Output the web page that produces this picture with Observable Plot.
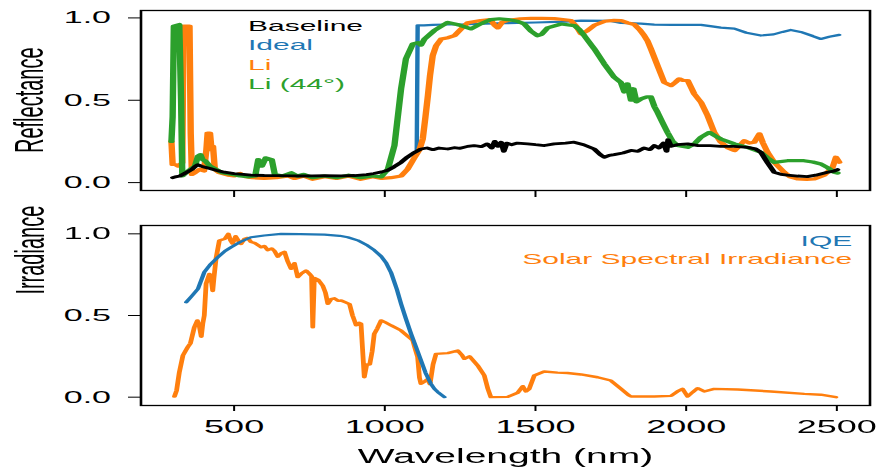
<!DOCTYPE html>
<html>
<head>
<meta charset="utf-8">
<script src="https://cdn.jsdelivr.net/npm/d3@7"></script>
<script src="https://cdn.jsdelivr.net/npm/@observablehq/plot@0.6"></script>
<style>
  html, body { margin: 0; padding: 0; background: white; overflow: hidden; }
  #wrap { width: 439.5px; transform: scale(2, 1); transform-origin: 0 0; }
  #wrap svg { display: block; }
</style>
</head>
<body>
<div id="wrap"></div>
<script>
// ---------- data (wavelength nm, value) ----------
const xTicks = [500, 1000, 1500, 2000, 2500];
const yTicks = [0, 0.5, 1];

const baseline = [[297,0.03],[305,0.035],[320,0.04],[340,0.06],[360,0.08],[372,0.1],[380,0.108],[390,0.1],[400,0.095],[420,0.085],[440,0.075],[468,0.063],[500,0.055],[530,0.05],[556,0.045],[600,0.043],[650,0.042],[689,0.041],[720,0.04],[760,0.041],[800,0.042],[855,0.041],[900,0.043],[940,0.048],[964,0.055],[990,0.065],[1010,0.075],[1030,0.095],[1054,0.123],[1075,0.155],[1095,0.18],[1120,0.204],[1140,0.21],[1160,0.2],[1180,0.21],[1209,0.204],[1230,0.212],[1250,0.208],[1275,0.22],[1296,0.225],[1320,0.218],[1340,0.235],[1355,0.21],[1365,0.25],[1375,0.22],[1386,0.245],[1395,0.19],[1405,0.24],[1420,0.23],[1440,0.24],[1474,0.235],[1500,0.23],[1530,0.225],[1562,0.235],[1600,0.24],[1628,0.245],[1660,0.23],[1695,0.204],[1715,0.17],[1728,0.154],[1745,0.165],[1761,0.17],[1790,0.18],[1817,0.195],[1840,0.19],[1860,0.21],[1880,0.2],[1894,0.225],[1910,0.21],[1925,0.24],[1935,0.19],[1940,0.26],[1950,0.22],[1970,0.23],[2005,0.235],[2040,0.225],[2080,0.225],[2115,0.22],[2160,0.22],[2204,0.214],[2230,0.205],[2248,0.184],[2270,0.12],[2292,0.063],[2315,0.05],[2336,0.045],[2370,0.04],[2402,0.036],[2430,0.045],[2469,0.063],[2490,0.07],[2502,0.079]];

const ideal = [[1106,0.2],[1109,0.955],[1130,0.955],[1160,0.958],[1200,0.96],[1250,0.96],[1300,0.963],[1400,0.968],[1500,0.972],[1600,0.978],[1651,0.984],[1750,0.982],[1784,0.97],[1850,0.965],[1894,0.959],[1950,0.958],[2049,0.958],[2080,0.95],[2115,0.941],[2160,0.935],[2200,0.91],[2248,0.893],[2290,0.9],[2320,0.915],[2347,0.927],[2380,0.915],[2420,0.89],[2447,0.872],[2475,0.885],[2508,0.897]];

const li = [[292,0.25],[296,0.11],[305,0.11],[315,0.1],[328,0.12],[332,0.95],[352,0.95],[356,0.3],[360,0.05],[370,0.06],[385,0.08],[400,0.07],[408,0.2],[412,0.3],[420,0.3],[425,0.2],[430,0.22],[436,0.08],[450,0.06],[480,0.045],[500,0.04],[520,0.055],[540,0.035],[560,0.03],[600,0.025],[640,0.03],[680,0.04],[700,0.025],[730,0.04],[760,0.02],[800,0.035],[840,0.025],[880,0.04],[920,0.02],[960,0.035],[990,0.025],[1020,0.03],[1054,0.04],[1075,0.08],[1098,0.15],[1115,0.2],[1126,0.265],[1135,0.4],[1143,0.528],[1150,0.65],[1159,0.771],[1170,0.83],[1187,0.872],[1210,0.88],[1231,0.892],[1253,0.933],[1275,0.97],[1319,0.984],[1350,0.99],[1365,0.955],[1375,0.94],[1390,0.975],[1408,0.985],[1450,0.995],[1485,0.998],[1520,0.997],[1562,0.996],[1590,0.99],[1618,0.984],[1635,0.95],[1651,0.903],[1670,0.92],[1695,0.955],[1730,0.98],[1761,0.985],[1784,0.984],[1806,0.97],[1828,0.96],[1845,0.93],[1861,0.892],[1872,0.86],[1883,0.812],[1905,0.71],[1927,0.609],[1950,0.589],[1965,0.61],[1977,0.63],[1990,0.62],[2005,0.62],[2027,0.538],[2049,0.488],[2071,0.407],[2093,0.305],[2115,0.245],[2140,0.21],[2160,0.194],[2175,0.22],[2193,0.255],[2210,0.24],[2226,0.245],[2243,0.296],[2255,0.24],[2270,0.184],[2292,0.123],[2325,0.063],[2345,0.035],[2369,0.022],[2400,0.02],[2425,0.022],[2458,0.045],[2486,0.093],[2497,0.154],[2508,0.123]];

const li44 = [[292,0.25],[296,0.4],[300,0.95],[318,0.96],[324,0.5],[328,0.04],[340,0.06],[355,0.08],[370,0.1],[380,0.16],[388,0.17],[395,0.14],[405,0.13],[420,0.1],[440,0.08],[460,0.06],[490,0.05],[520,0.04],[550,0.035],[570,0.04],[580,0.14],[592,0.1],[605,0.15],[625,0.14],[635,0.05],[660,0.04],[690,0.06],[710,0.04],[730,0.05],[760,0.03],[800,0.04],[840,0.03],[880,0.045],[920,0.03],[960,0.04],[988,0.035],[1010,0.08],[1032,0.225],[1054,0.569],[1070,0.751],[1093,0.842],[1110,0.85],[1120,0.835],[1131,0.87],[1164,0.923],[1209,0.973],[1240,0.96],[1253,0.953],[1286,0.933],[1319,0.965],[1352,0.99],[1380,0.995],[1408,0.99],[1440,0.98],[1463,0.963],[1485,0.92],[1507,0.892],[1520,0.9],[1540,0.94],[1585,0.963],[1629,0.953],[1645,0.93],[1662,0.892],[1695,0.812],[1728,0.721],[1761,0.64],[1783,0.609],[1795,0.55],[1805,0.6],[1817,0.5],[1825,0.57],[1835,0.49],[1850,0.508],[1870,0.52],[1883,0.52],[1895,0.46],[1905,0.427],[1920,0.37],[1938,0.305],[1955,0.25],[1971,0.225],[2005,0.214],[2030,0.24],[2049,0.275],[2077,0.305],[2100,0.28],[2115,0.265],[2160,0.235],[2204,0.214],[2248,0.184],[2270,0.15],[2292,0.123],[2336,0.133],[2391,0.133],[2420,0.125],[2447,0.113],[2470,0.09],[2491,0.063],[2502,0.058]];

const solar = [[302,0.004],[309,0.04],[318,0.15],[330,0.255],[346,0.306],[355,0.33],[368,0.428],[378,0.47],[385,0.43],[391,0.37],[396,0.45],[401,0.5],[407,0.694],[418,0.755],[424,0.72],[429,0.65],[433,0.73],[440,0.85],[451,0.959],[470,0.97],[481,1.0],[488,0.96],[495,0.94],[505,0.985],[515,0.955],[523,0.938],[535,0.97],[545,0.975],[556,0.95],[567,0.945],[580,0.93],[590,0.918],[600,0.925],[612,0.9],[625,0.91],[634,0.895],[645,0.86],[656,0.88],[667,0.89],[678,0.83],[689,0.786],[700,0.82],[711,0.735],[722,0.755],[739,0.775],[750,0.755],[757,0.74],[761,0.428],[766,0.73],[778,0.72],[794,0.683],[803,0.64],[811,0.571],[822,0.6],[833,0.605],[845,0.59],[855,0.592],[870,0.58],[883,0.57],[893,0.5],[899,0.47],[905,0.44],[915,0.455],[921,0.45],[926,0.3],[932,0.122],[940,0.2],[950,0.2],[958,0.28],[965,0.388],[975,0.42],[988,0.47],[1000,0.46],[1021,0.439],[1054,0.408],[1093,0.347],[1100,0.3],[1109,0.245],[1115,0.12],[1120,0.082],[1131,0.095],[1142,0.11],[1150,0.08],[1160,0.2],[1170,0.265],[1209,0.27],[1242,0.285],[1255,0.26],[1264,0.235],[1281,0.25],[1308,0.194],[1330,0.133],[1342,0.051],[1352,0.0],[1408,0.002],[1441,0.027],[1458,0.067],[1468,0.035],[1479,0.05],[1496,0.133],[1529,0.157],[1573,0.15],[1606,0.148],[1651,0.139],[1706,0.122],[1750,0.102],[1784,0.051],[1811,0.01],[1817,0.004],[1894,0.004],[1950,0.008],[1971,0.035],[1988,0.051],[2005,0.004],[2021,0.03],[2038,0.055],[2060,0.035],[2093,0.051],[2171,0.047],[2281,0.035],[2392,0.02],[2447,0.015],[2497,0.0]];

const iqe = [[341,0.581],[360,0.62],[380,0.663],[401,0.765],[420,0.81],[446,0.857],[470,0.895],[490,0.918],[520,0.95],[556,0.979],[600,0.99],[656,1.0],[720,0.998],[800,0.995],[850,0.988],[877,0.979],[910,0.96],[943,0.928],[965,0.9],[988,0.862],[1005,0.82],[1021,0.762],[1040,0.66],[1054,0.571],[1070,0.48],[1087,0.388],[1105,0.3],[1120,0.225],[1135,0.15],[1153,0.082],[1165,0.05],[1176,0.031],[1198,0.0]];

const topLegend = ["Baseline", "Ideal", "Li", "Li (44°)"];
const topLegendColors = ["#000000", "#1f77b4", "#ff7f0e", "#2ca02c"];
const topLegendY = [0.950, 0.834, 0.711, 0.595];
const bottomLegend = ["IQE", "Solar Spectral Irradiance"];
const bottomLegendColors = ["#1f77b4", "#ff7f0e"];
const bottomLegendY = [0.954, 0.843];

// ---------- layout ----------
const W = 439.5;
const FONT = "'Liberation Sans', Arial, Helvetica, sans-serif";
const xDomain = [191, 2610];
const fmt = d3.format(".1f");

const line = (data, stroke, w) => Plot.line(data, {x: d => d[0], y: d => d[1], stroke, strokeWidth: w, strokeLinejoin: "round", strokeLinecap: "round"});

const topLeg = topLegend.map((t, i) => ({t, c: topLegendColors[i], y: topLegendY[i]}));
const botLeg = bottomLegend.map((t, i) => ({t, c: bottomLegendColors[i], y: bottomLegendY[i]}));

const topChart = Plot.plot({
  width: W, height: 200,
  marginLeft: 70, marginRight: 5, marginTop: 10, marginBottom: 10,
  style: {fontFamily: FONT, fontSize: "17px", color: "black", background: "white", overflow: "visible"},
  x: {domain: xDomain},
  y: {domain: [-0.048, 1.045]},
  marks: [
    Plot.axisY({ticks: yTicks, tickFormat: fmt, tickSize: 6, tickPadding: 9, label: null, fontSize: 17}),
    Plot.axisX({ticks: xTicks, tickFormat: () => "", tickSize: 7, label: null}),
    line(ideal, "#1f77b4", 2.2),
    line(li, "#ff7f0e", 3.2),
    line(li44, "#2ca02c", 3.2),
    line(baseline, "#000000", 2.8),
    Plot.frame({stroke: "black", strokeWidth: 1.3}),
    Plot.text(topLeg, {x: 546, y: "y", text: "t", fill: "c", textAnchor: "start", lineAnchor: "middle", fontSize: 15}),
    Plot.text(["Reflectance"], {x: xDomain[0], y: 0.5, text: d => d, rotate: -90, dx: -55.4, textAnchor: "middle", lineAnchor: "middle", fontSize: 20})
  ]
});

const bottomChart = Plot.plot({
  width: W, height: 270,
  marginLeft: 70, marginRight: 5, marginTop: 25, marginBottom: 65,
  style: {fontFamily: FONT, fontSize: "17.5px", color: "black", background: "white", overflow: "visible"},
  x: {domain: xDomain},
  y: {domain: [-0.051, 1.051]},
  marks: [
    Plot.axisY({ticks: yTicks, tickFormat: fmt, tickSize: 6, tickPadding: 9, label: null, fontSize: 17}),
    Plot.axisX({ticks: xTicks, tickFormat: d => String(d), tickSize: 6, tickPadding: 9, label: null, fontSize: 18}),
    line(solar, "#ff7f0e", 2.4),
    line(iqe, "#1f77b4", 2.2),
    Plot.frame({stroke: "black", strokeWidth: 1.3}),
    Plot.text(botLeg, {x: 2551, y: "y", text: "t", fill: "c", textAnchor: "end", lineAnchor: "middle", fontSize: 15}),
    Plot.text(["Irradiance"], {x: xDomain[0], y: 0.90, text: d => d, rotate: -90, dx: -55, textAnchor: "middle", lineAnchor: "middle", fontSize: 20}),
    Plot.text(["Wavelength (nm)"], {frameAnchor: "bottom", text: d => d, dy: 51, textAnchor: "middle", lineAnchor: "middle", fontSize: 19.5})
  ]
});

const wrap = document.getElementById("wrap");
wrap.appendChild(topChart);
wrap.appendChild(bottomChart);
</script>
</body>
</html>
